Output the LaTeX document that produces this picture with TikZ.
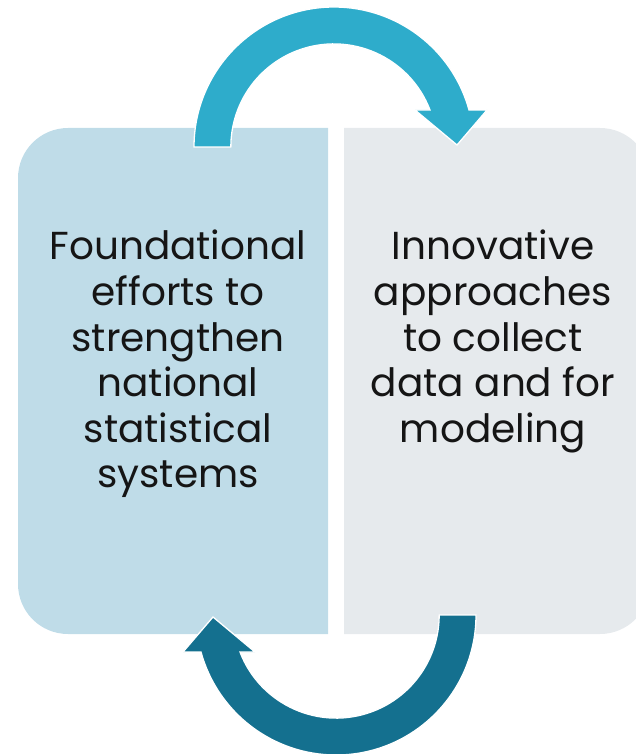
\documentclass[tikz,border=0pt]{standalone}
\usepackage{fontspec}
\setmainfont{Poppins}
\usepackage{xcolor}
\usepackage{tikz}
\usetikzlibrary{positioning}
\definecolor{paleblue}{HTML}{BFDCE8}
\definecolor{palegray}{HTML}{E6EAED}
\definecolor{cyanarrow}{HTML}{2EACCB}
\definecolor{tealarrow}{HTML}{14708F}
\definecolor{inktext}{HTML}{151515}

\begin{document}
\begin{tikzpicture}[
  x=1pt,y=-1pt,
  panel/.style={draw=none},
  boxtext/.style={inner sep=0pt,anchor=north,align=center,text=inktext,
    font=\fontsize{39}{45.6}\selectfont},
  cyclearrow/.style={draw=white,line width=1.3pt,line join=miter}
]
\useasboundingbox (0,0) rectangle (636,754);
\clip (0,0) rectangle (636,754);
\fill[panel,paleblue] (328,128) -- (68,128) arc[start angle=270,end angle=180,radius=50]
  -- (18,584) arc[start angle=180,end angle=90,radius=50] -- (328,634) -- cycle;
\fill[panel,palegray] (344,128) -- (600,128) arc[start angle=270,end angle=360,radius=50]
  -- (650,584) arc[start angle=0,end angle=90,radius=50] -- (344,634) -- cycle;
\node[boxtext] (found) at (178,230) {Foundational\\efforts to\\strengthen\\national\\statistical\\systems};
\node[boxtext] (innov) at (493,230) {Innovative\\approaches\\to collect\\data and for\\modeling};
\filldraw[cyclearrow,fill=cyanarrow] (194,147) arc[start angle=180,end angle=344.7,radius=140]
  -- (487,110) -- (457,145) -- (415,110) -- (430,110)
  arc[start angle=339,end angle=180,radius=103] -- cycle;
\begin{scope}[rotate around={180:(335,381)}]
\filldraw[cyclearrow,fill=tealarrow] (194,147) arc[start angle=180,end angle=344.7,radius=140]
  -- (487,110) -- (457,145) -- (415,110) -- (430,110)
  arc[start angle=339,end angle=180,radius=103] -- cycle;
\end{scope}
\end{tikzpicture}
\end{document}
